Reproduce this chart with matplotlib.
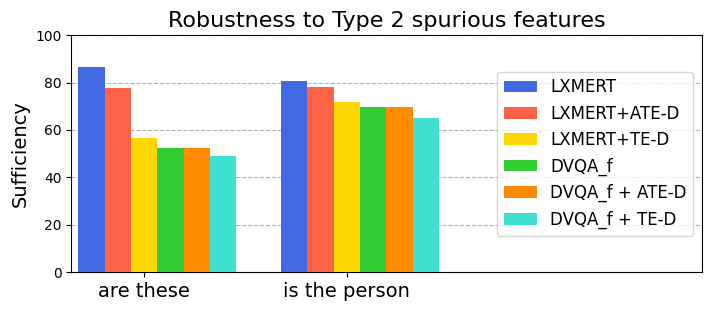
import numpy as np
import matplotlib
matplotlib.use('Agg')
import matplotlib.pyplot as plt

categories = ['are these', 'is the person']
models = ['LXMERT', 'LXMERT+ATE-D', 'LXMERT+TE-D', 'DVQA_f', 'DVQA_f + ATE-D', 'DVQA_f + TE-D']
colors = ['royalblue', 'tomato', 'gold', 'limegreen', 'darkorange', 'turquoise']

lxmert = [86.5, 80.6]
lxmert_ate = [77.7, 78.1]
lxmert_te = [56.4, 71.8]
dvqa = [52.2, 69.8]
dvqa_ate = [52.2, 69.8]
dvqa_te = [48.9, 65.2]
values = [lxmert, lxmert_ate, lxmert_te, dvqa, dvqa_ate, dvqa_te]

x = np.arange(len(categories))
width = 0.13

fig = plt.figure(figsize=(7.11, 3.11), dpi=100)
ax = fig.add_axes([0.1, 0.125, 0.887, 0.762])

for i, (vals, name, c) in enumerate(zip(values, models, colors)):
    ax.bar(x + (i - 2) * width, vals, width, color=c, label=name, zorder=3)

ax.set_xticks(x)
ax.set_xticklabels(categories, fontsize=14)
ax.set_xlim(-0.36, 2.75)
ax.set_ylim(0, 100)
ax.set_ylabel('Sufficiency', fontsize=14)
ax.set_title('Robustness to Type 2 spurious features', fontsize=16)
ax.yaxis.grid(True, linestyle='--', color='gray', alpha=0.6, zorder=0)
ax.legend(loc='center right', fontsize=12)

fig.savefig('out.png', dpi=100)
